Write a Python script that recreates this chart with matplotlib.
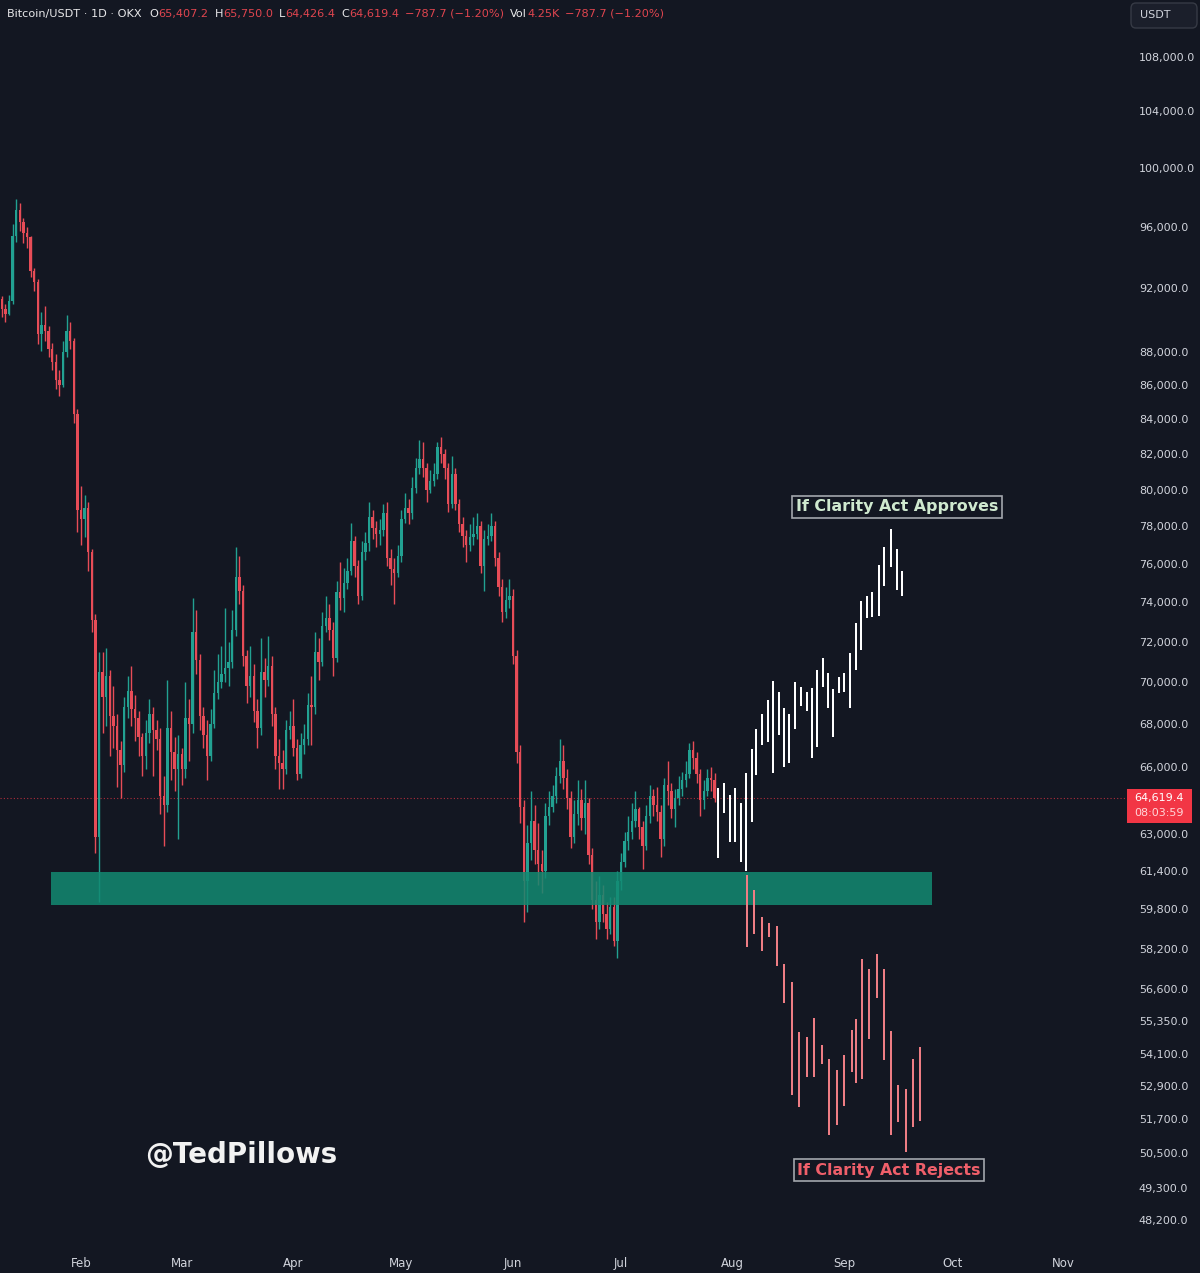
import matplotlib
matplotlib.use('Agg')
import matplotlib.pyplot as plt
from matplotlib.patches import Rectangle, FancyBboxPatch
from matplotlib.ticker import NullLocator
import numpy as np

# ---------------- data ----------------
BG = '#131722'
UP = '#22a192'
DN = '#e74c57'

start_day = 9          # first candle: 10 Jan 2026 (day index, 1 Jan = 0)
first_open = 91300

closes = [
    90700, 90400, 91200, 95400, 97100, 96300, 95600, 95300, 93100, 92400, 89100, 89700, 89300, 88200,
    87400, 86300, 86000, 88000, 89300, 88700, 84300, 78900, 78400, 79000, 76600, 73100, 62900, 70500,
    69300, 70300, 68400, 67900, 66800, 66100, 68800, 69600, 68700, 68300, 67400, 66500, 67600, 68500,
    67700, 67300, 64700, 64300, 67800, 66700, 65900, 66600, 65900, 68300, 68000, 72500, 71100, 68400,
    67500, 66500, 68000, 69500, 70000, 70400, 70700, 71000, 72600, 75300, 74600, 71300, 69800, 70300,
    68600, 67800, 70500, 70100, 70800, 68500, 66500, 66200, 65900, 67700,
    67900, 66900, 65700, 67000, 67300, 68900, 68800, 71500, 71000, 72800, 73200, 72600, 71200, 74500,
    74200, 75000, 75600, 77200, 75900, 74300, 76600, 77100, 78500, 77900, 77600, 77800, 78700, 76300,
    75700, 75500, 76400, 78400, 79000, 78700, 80100, 81200, 81700, 81200, 80000, 80500, 80900, 82400,
    82000, 81200, 79200, 80900, 79200, 78100, 77500, 77000, 77400, 77600, 78000, 75900, 77300, 77500,
    78000, 76300, 74800, 73500, 74100, 74300,
    71300, 66700, 64200, 61000, 62600, 63600, 62300, 61700, 61400, 63800, 64200, 64700, 65600, 66300,
    65500, 64600, 62900, 63900, 64500, 63700, 64400, 62100, 60200, 59300, 60400, 59600, 59000, 59900,
    58500, 61000, 61800, 62700, 63100, 63600, 64100, 63300, 62500, 63800, 64700, 64300, 64000, 62800,
    65200, 64900, 64100, 64600, 65000, 65400, 65700, 66800, 66400, 65700, 64500, 64900, 65500, 65407.2,
    64619.4,
]
highs = [
    91500, 91000, 91600, 96200, 97900, 97600, 96600, 96000, 95400, 93300, 92600, 90500, 90900, 89600,
    88600, 87900, 86900, 88700, 90300, 89900, 88900, 84600, 80200, 79700, 79300, 76800, 73400, 71500,
    71500, 71700, 70600, 69800, 68500, 67200, 69300, 70300, 70800, 69400, 68600, 67600, 68200, 69200,
    68800, 68200, 67800, 65600, 70100, 68600, 67400, 67500, 66900, 70000, 69200, 74200, 73600, 71400,
    68800, 68200, 68700, 70600, 71400, 71800, 73700, 72000, 73600, 76900, 76400, 74900, 71600, 71800,
    70900, 69200, 72200, 71200, 72300, 71300, 68800, 67300, 66800, 68200,
    68600, 69200, 67300, 67600, 68000, 69500, 70300, 72500, 72200, 73500, 74300, 73900, 73000, 75100,
    76100, 75800, 76300, 78200, 77500, 76200, 77200, 77700, 79300, 78900, 78300, 78400, 79200, 79300,
    76800, 76300, 77000, 78900, 79800, 79500, 80700, 81800, 82800, 82700, 81500, 81100, 81500, 82700,
    83000, 82300, 81500, 81900, 81200, 79500, 78500, 77800, 78100, 78500, 78700, 78300, 77800, 78100,
    78700, 78300, 76600, 75200, 74800, 75200,
    74700, 71600, 67000, 64500, 63400, 64900, 64300, 63500, 62300, 64400, 64900, 65200, 66000, 67300,
    67000, 65900, 64900, 64500, 65400, 65000, 65400, 64600, 62400, 61000, 61200, 60800, 60100, 60300,
    60300, 61400, 62200, 63100, 63800, 64400, 64900, 64200, 63600, 64300, 65200, 65000, 65100, 64300,
    65500, 66300, 65300, 65000, 65600, 65800, 66300, 67100, 67200, 66700, 65900, 65400, 65900, 66000,
    65750,
]
lows = [
    90200, 89900, 90300, 91000, 95000, 95700, 94900, 94600, 92700, 91800, 88500, 88100, 88700, 87700,
    86900, 85800, 85400, 85900, 87700, 88200, 83800, 77700, 77000, 77400, 75600, 72500, 62200, 60100,
    67600, 67900, 66500, 66900, 65100, 64600, 65800, 68300, 67900, 67200, 66500, 65600, 65900, 67100,
    65600, 66800, 63900, 62500, 64000, 65400, 64900, 62800, 65200, 65500, 66300, 67600, 70400, 67700,
    66900, 65400, 66300, 67800, 69200, 69700, 70000, 69800, 70700, 72300, 73900, 70800, 69000, 69300,
    68100, 66900, 67500, 69300, 69800, 67900, 65900, 65000, 65000, 65700,
    67300, 66500, 65400, 65500, 66600, 67000, 67000, 68500, 70100, 70800, 72500, 72100, 70300, 71000,
    73600, 73500, 74700, 75400, 75300, 73900, 74100, 76200, 76700, 77300, 76900, 77000, 77500, 75900,
    74900, 73900, 75300, 76100, 78200, 78100, 78400, 79800, 80900, 80700, 79300, 79800, 80200, 80600,
    81500, 80600, 78800, 79000, 78900, 77700, 76900, 76100, 76700, 77000, 77300, 75500, 74600, 77000,
    77200, 75900, 74300, 73000, 73200, 73700,
    70900, 66200, 63500, 59300, 59700, 61900, 61700, 60800, 60500, 61100, 63400, 64000, 64400, 65300,
    65000, 64100, 62400, 62600, 63400, 63200, 63000, 61700, 59800, 58600, 59000, 59300, 58600, 58800,
    58300, 57800, 60600, 61600, 62300, 62800, 63300, 62800, 61500, 62300, 63500, 63800, 63600, 62000,
    62500, 64300, 63700, 63300, 64300, 64700, 65100, 65500, 65900, 65300, 63800, 64100, 64700, 64900,
    64426.4,
]

# projected path "If Clarity Act Approves" (day index, high, low)
approve_days = [207.9, 209.6, 211.3, 212.7, 214.3, 215.7, 217.4, 218.5, 220.2, 221.8, 223.2, 224.9,
                226.3, 227.7, 229.3, 231.0, 232.7, 234.1, 235.4, 237.1, 238.5, 239.9, 241.6, 242.9,
                244.6, 246.3, 247.7, 249.3, 250.7, 252.7, 254.1, 256.0, 257.7, 259.1]
approve_high = [65060, 65280, 64740, 65060, 64380, 65740, 66840, 67780, 68480, 69150, 70060, 69530,
                68760, 68480, 70010, 69770, 69530, 69720, 70590, 71190, 70450, 69670, 70250, 70450,
                71440, 72940, 74060, 74320, 74540, 75940, 76900, 77860, 76780, 75620]
approve_low = [61970, 63930, 62660, 62660, 61800, 61400, 63540, 65650, 67020, 67160, 65740, 67490,
               66010, 66190, 67780, 68860, 68620, 66420, 66930, 69770, 68760, 67400, 69480, 69530,
               68760, 70590, 71590, 73190, 73240, 73290, 74840, 75830, 74630, 74320]

# projected path "If Clarity Act Rejects"
reject_days = [216.0, 217.9, 220.2, 222.1, 224.3, 226.3, 228.5, 230.5, 232.7, 234.6, 236.8, 238.8,
               241.0, 242.9, 245.2, 246.3, 248.0, 249.9, 252.1, 254.1, 256.0, 258.0, 260.2, 262.1, 264.1]
reject_high = [61240, 60610, 59490, 59240, 59110, 57580, 56860, 54920, 54730, 55460, 54430, 53910,
               53500, 54060, 55000, 55420, 57780, 57380, 57980, 57380, 54960, 52950, 52800, 53910, 54350]
reject_low = [58270, 58790, 58100, 58660, 57500, 56040, 52580, 52140, 53240, 53240, 53720, 51140,
              51490, 52180, 53420, 53020, 53170, 54660, 56240, 53870, 51140, 51600, 50540, 51420, 51630]

zone_low, zone_high = 59980, 61370
zone_start, zone_end = 22.7, 267.4
last_price = 64619.4
countdown = '08:03:59'

month_days = [31, 59, 90, 120, 151, 181, 212, 243, 273, 304]
month_labels = ['Feb', 'Mar', 'Apr', 'May', 'Jun', 'Jul', 'Aug', 'Sep', 'Oct', 'Nov']
price_ticks = [108000, 104000, 100000, 96000, 92000, 88000, 86000, 84000, 82000, 80000, 78000,
               76000, 74000, 72000, 70000, 68000, 66000, 63000, 61400, 59800, 58200, 56600, 55350,
               54100, 52900, 51700, 50500, 49300, 48200]

header = [('Bitcoin/USDT · 1D · OKX', 'w'), ('O', 'w'), ('65,407.2', 'r'), ('H', 'w'), ('65,750.0', 'r'),
          ('L', 'w'), ('64,426.4', 'r'), ('C', 'w'), ('64,619.4', 'r'), ('−787.7 (−1.20%)', 'r'),
          ('Vol', 'w'), ('4.25K', 'r'), ('−787.7 (−1.20%)', 'r')]

# ---------------- figure ----------------
W, H = 1200, 1273
fig = plt.figure(figsize=(W / 100, H / 100), dpi=100, facecolor=BG)
ax = fig.add_axes([0, (H - 1243) / H, 1125 / W, 1243 / H])
ax.set_facecolor(BG)
ax.set_yscale('log')
ax.set_xlim(8.5, 321)
ax.set_ylim(47449, 112356)
for s in ax.spines.values():
    s.set_visible(False)

n = len(closes)
opens = np.array([first_open] + closes[:-1], dtype=float)
c = np.array(closes, dtype=float)
hi = np.maximum(np.array(highs, dtype=float), np.maximum(opens, c))
lo = np.minimum(np.array(lows, dtype=float), np.minimum(opens, c))
days = start_day + np.arange(n)
cols = [UP if cc >= oo else DN for oo, cc in zip(opens, c)]
ax.vlines(days, lo, hi, colors=cols, lw=1.0, zorder=2)
bot = np.minimum(opens, c)
top = np.maximum(opens, c)
top = np.maximum(top, bot * 1.0008)
ax.bar(days, top - bot, bottom=bot, width=0.68, color=cols, zorder=3, linewidth=0)

# current price dotted line
ax.axhline(last_price, color='#f23645', lw=0.8, ls=(0, (1, 2)), alpha=0.7, zorder=1)

# support zone
ax.add_patch(Rectangle((zone_start, zone_low), zone_end - zone_start, zone_high - zone_low,
                       facecolor='#128a72', alpha=0.85, lw=0, zorder=5))

# projected bars
ah = np.array(approve_high); al = np.array(approve_low)
ax.bar(approve_days, ah - al, bottom=al, width=0.6, color='#ffffff', zorder=6, linewidth=0)
rh = np.array(reject_high); rl = np.array(reject_low)
ax.bar(reject_days, rh - rl, bottom=rl, width=0.65, color='#ee7d84', zorder=6, linewidth=0)

# axes ticks
ax.yaxis.tick_right()
ax.set_yticks(price_ticks)
ax.set_yticklabels([f'{v:,.1f}' for v in price_ticks])
ax.yaxis.set_minor_locator(NullLocator())
ax.tick_params(axis='y', length=0, pad=10, labelsize=8, colors='#d1d4dc')
ax.set_xticks(month_days)
ax.set_xticklabels(month_labels)
ax.tick_params(axis='x', length=0, pad=10, labelsize=8.5, colors='#d1d4dc')

# price label box
fig.patches.append(Rectangle((1127 / W, 1 - 823 / H), 65 / W, 34 / H, transform=fig.transFigure,
                             facecolor='#f23645', edgecolor='none', zorder=10))
fig.text(1134 / W, 1 - 798 / H, f'{last_price:,.1f}', color='white', fontsize=8, va='center', zorder=11)
fig.text(1134 / W, 1 - 813 / H, countdown, color='#ffd6d9', fontsize=8, va='center', zorder=11)

# USDT box
fig.patches.append(FancyBboxPatch((1131 / W, 1 - 28 / H), 66 / W, 25 / H, transform=fig.transFigure,
                                  boxstyle='round,pad=0,rounding_size=0.004', mutation_aspect=1.06,
                                  facecolor='#1b1f2b', edgecolor='#363a45', lw=1, zorder=10))
fig.text(1140 / W, 1 - 15 / H, 'USDT', color='#d1d4dc', fontsize=8, va='center', zorder=11)

# header
renderer = fig.canvas.get_renderer()
x = 7
for k, (txt, cc) in enumerate(header):
    t = fig.text(x / W, 1 - 14 / H, txt, color='#e8e8ea' if cc == 'w' else '#e0454f', fontsize=8.1,
                 va='center', ha='left')
    x += t.get_window_extent(renderer).width
    if cc == 'r':
        x += 6
    if k == 0:
        x += 8

# annotations
fig.text(897 / W, 1 - 507 / H, 'If Clarity Act Approves', color='#cfe9cf', fontsize=11.4,
         fontweight='bold', ha='center', va='center',
         bbox=dict(boxstyle='square,pad=0.22', facecolor=BG, edgecolor='#a3a6ad', lw=1.2))
fig.text(889 / W, 1 - 1170 / H, 'If Clarity Act Rejects', color='#ef5f6a', fontsize=11.4,
         fontweight='bold', ha='center', va='center',
         bbox=dict(boxstyle='square,pad=0.22', facecolor=BG, edgecolor='#a3a6ad', lw=1.2))

# watermark
fig.text(145 / W, 1 - 1155 / H, '@TedPillows', color='#f2f2f2', fontsize=20, fontweight='bold',
         ha='left', va='center')

fig.savefig('out.png', dpi=100, facecolor=BG)
